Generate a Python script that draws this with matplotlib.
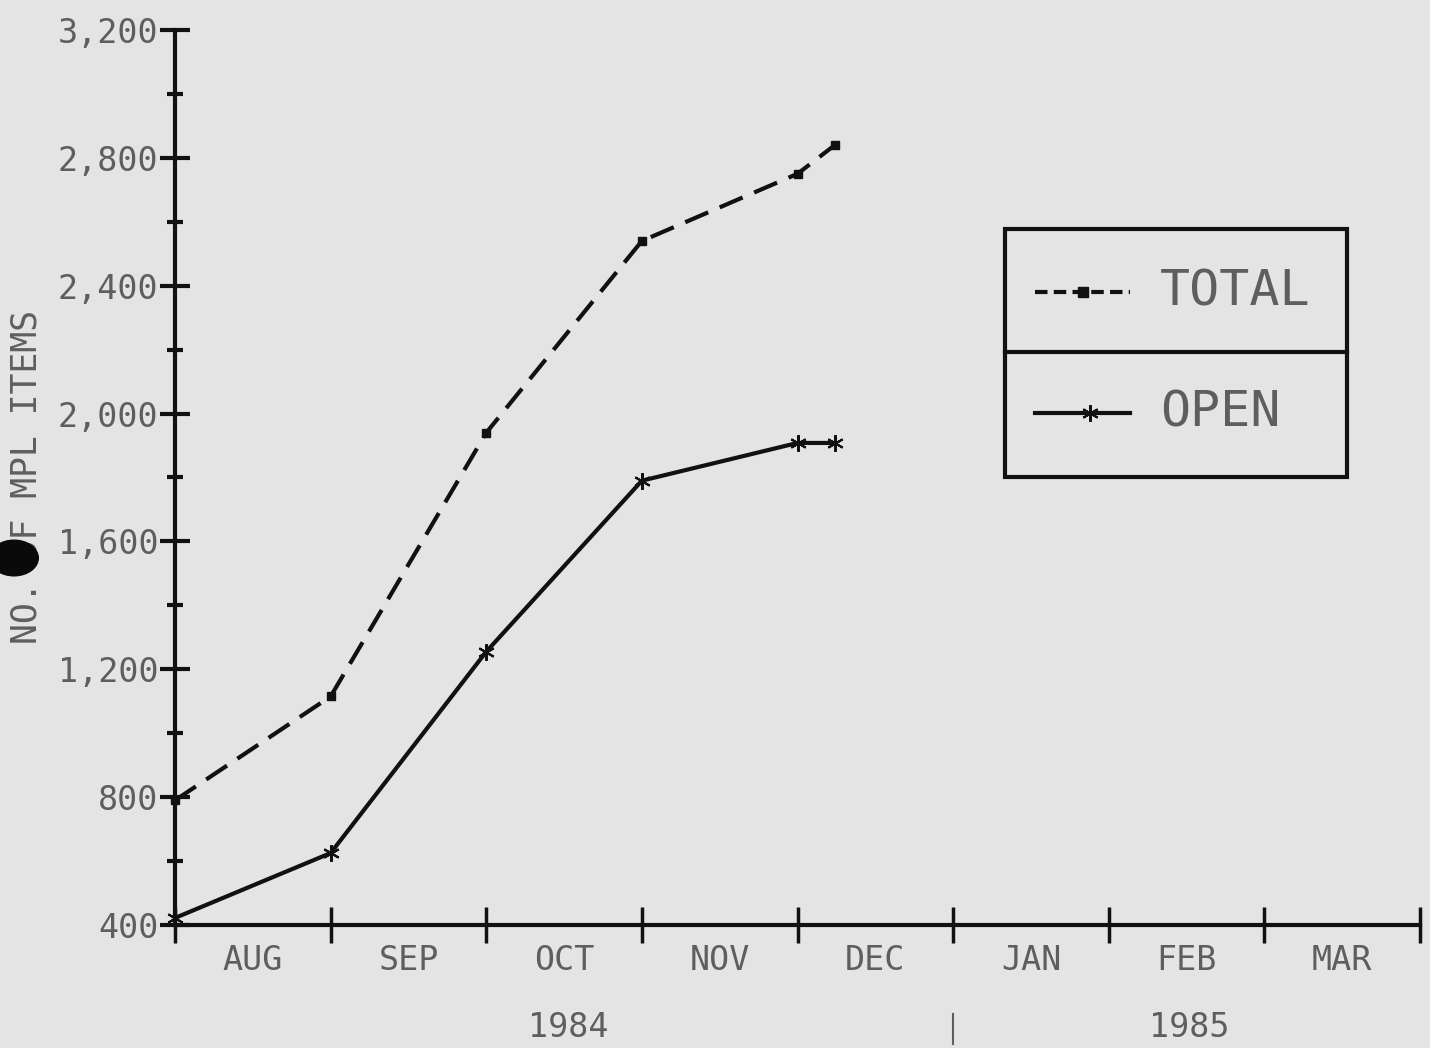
import numpy as np
import matplotlib.pyplot as plt
from matplotlib.patches import Rectangle, Circle
from matplotlib.lines import Line2D

# months counted from 1 Aug 1984; boundaries at whole numbers
months = ["AUG", "SEP", "OCT", "NOV", "DEC", "JAN", "FEB", "MAR"]
years = ["1984", "1985"]
year_pos = [2.53, 6.52]

x_pts = [0, 1, 2, 3, 4, 4.24]
total = [790, 1115, 1940, 2540, 2750, 2840]
open_items = [422, 625, 1255, 1790, 1908, 1908]

bg = "#e4e4e4"
ink = "#111111"
txt = "#5e5e5e"
font = "DejaVu Sans Mono"

fig = plt.figure(figsize=(14.3, 10.48), dpi=100, facecolor=bg)
ax = fig.add_axes([0.1224, 0.1174, 0.8706, 0.854])
ax.set_facecolor(bg)

ax.plot(x_pts, total, color=ink, lw=3, dashes=(6, 3), marker="s", ms=6,
        clip_on=False, zorder=5)
ax.plot(x_pts, open_items, color=ink, lw=3, marker=(6, 2, 0), ms=12,
        mew=1.5, clip_on=False, zorder=5)

ax.set_xlim(0, 8)
ax.set_ylim(400, 3200)

for s in ["top", "right"]:
    ax.spines[s].set_visible(False)
for s in ["left", "bottom"]:
    ax.spines[s].set_linewidth(3)
    ax.spines[s].set_color(ink)

yt = np.arange(400, 3201, 400)
ax.set_yticks(yt)
ax.set_yticklabels([f"{v:,}" for v in yt], fontsize=24, family=font, color=txt)
ax.set_yticks(np.arange(600, 3200, 400), minor=True)
ax.tick_params(axis="y", which="major", direction="inout", length=22, width=3,
               color=ink, pad=1)
ax.tick_params(axis="y", which="minor", direction="inout", length=12, width=3,
               color=ink)

ax.set_xticks(np.arange(0, 9))
ax.set_xticklabels([])
ax.set_xticks(np.arange(0.5, 8, 1), minor=True)
ax.set_xticklabels(months, minor=True, fontsize=24, family=font, color=txt)
ax.tick_params(axis="x", which="major", direction="inout", length=26, width=2.5,
               color=ink)
ax.tick_params(axis="x", which="minor", length=0, pad=14)

for yr, xp in zip(years, year_pos):
    ax.text(xp, -0.115, yr, transform=ax.get_xaxis_transform(), ha="center",
            va="center", fontsize=24, family=font, color=txt, clip_on=False)
ax.plot([5, 5], [-0.1, -0.133], transform=ax.get_xaxis_transform(),
        color=txt, lw=1.5, clip_on=False)

ax.set_ylabel("NO. OF MPL ITEMS", fontsize=25, family=font, color=txt, labelpad=10)

# boxed legend with divider line
ax.add_patch(Rectangle((0.6667, 0.5006), 0.2747, 0.2771, transform=ax.transAxes,
                       fill=False, lw=3, ec=ink, clip_on=False))
ax.add_line(Line2D([0.6667, 0.9414], [0.6402, 0.6402], transform=ax.transAxes,
                   lw=3, color=ink))
ax.add_line(Line2D([0.6908, 0.7671], [0.7073, 0.7073], transform=ax.transAxes,
                   lw=3, color=ink, dashes=(3, 1.5)))
ax.add_line(Line2D([0.729], [0.7073], transform=ax.transAxes,
                   lw=0, marker="s", ms=7, color=ink))
ax.add_line(Line2D([0.6908, 0.7671], [0.5721, 0.5721], transform=ax.transAxes,
                   lw=3, color=ink))
ax.add_line(Line2D([0.735], [0.5721], transform=ax.transAxes, lw=0, color=ink,
                   marker=(6, 2, 0), ms=12, mew=1.5))
ax.text(0.791, 0.7073, "TOTAL", transform=ax.transAxes, va="center", ha="left",
        fontsize=36, family=font, color=txt)
ax.text(0.791, 0.5721, "OPEN", transform=ax.transAxes, va="center", ha="left",
        fontsize=36, family=font, color=txt)

# punch hole from the scan
fig.add_artist(Circle((14 / 1430, 1 - 558 / 1048), 0.017, transform=fig.transFigure,
                      color="#0a0a0a", zorder=10))

fig.savefig("out.png", dpi=100, facecolor=bg)
